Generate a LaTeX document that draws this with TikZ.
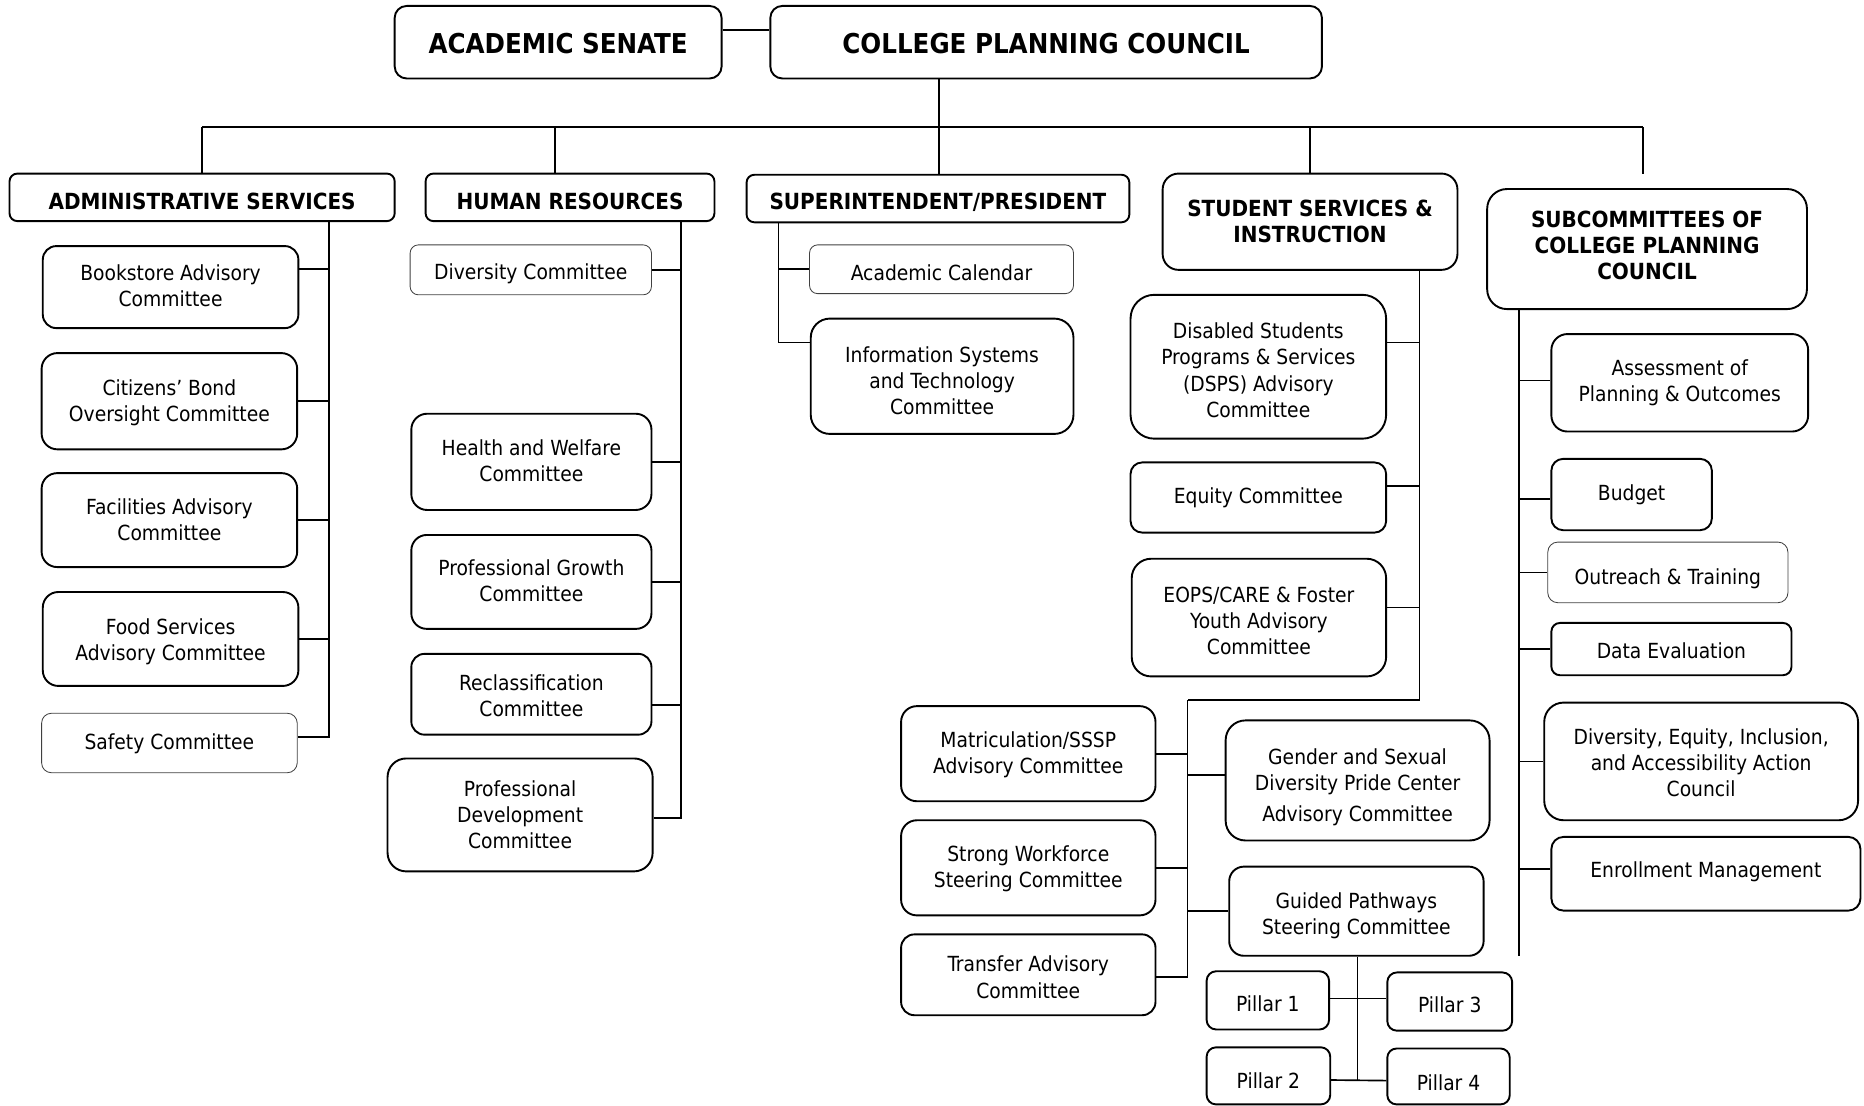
\documentclass[tikz,border=0pt]{standalone}
\usepackage{fontspec}
\setmainfont{DejaVu Sans Condensed}
\begin{document}
\begin{tikzpicture}[x=1pt,y=-1pt,
  box/.style={draw=black,line width=1.6pt,inner sep=0pt},
  thin/.style={draw=black!75,line width=0.7pt},
  txt/.style={inner sep=0pt,align=center,font={\fontsize{17.5}{22}\selectfont}},
  head/.style={font={\fontsize{18.7}{22}\selectfont\bfseries}},
  top/.style={font={\fontsize{23}{28}\selectfont\bfseries}},
  link/.style={draw=black,line width=1.4pt}]
\useasboundingbox (0,0) rectangle (1568,930);
% \bx[box options]{name}{centre}{width}{height}{text options}{text}
\newcommand\bx[7][]{%
  \pgfmathsetmacro\rr{0.165*#5}%
  \node[box,#1,minimum width=#4pt,minimum height=#5pt,rounded corners=\rr pt] (#2) at (#3) {};
  \node[txt,#6] (#2-t) at (#2.center) {#7};}
% top level
\bx{AS}{469.5,35.5}{275}{61}{top,yshift=-1pt}{ACADEMIC SENATE}
\bx{CPC}{880,35.5}{464}{61}{top,yshift=-1pt}{COLLEGE PLANNING COUNCIL}
% level 2
\bx{ADM}{170,166}{324}{40}{head,yshift=-3pt}{ADMINISTRATIVE SERVICES}
\bx{HR}{479.5,166}{243}{40}{head,yshift=-3pt}{HUMAN RESOURCES}
\bx{SUP}{789,167}{322}{40}{head,yshift=-3.5pt}{SUPERINTENDENT/PRESIDENT}
\bx{SSI}{1102,186.5}{248}{81}{head}{STUDENT SERVICES \&\\INSTRUCTION}
\bx{SUB}{1385.5,209.5}{269}{101}{head,yshift=3pt}{SUBCOMMITTEES OF\\COLLEGE PLANNING\\COUNCIL}
% administrative services
\bx{Book}{143.5,241.5}{215}{69}{yshift=1pt}{Bookstore Advisory\\Committee}
\bx{Cit}{142.5,337.5}{215}{81}{yshift=-1.5pt}{Citizens’ Bond\\Oversight Committee}
\bx{Fac}{142.5,437.5}{215}{79}{}{Facilities Advisory\\Committee}
\bx{Food}{143.5,537.5}{215}{79}{yshift=-2pt}{Food Services\\Advisory Committee}
\bx[thin]{Saf}{142.5,625}{215}{50}{yshift=-1pt}{Safety Committee}
% human resources
\bx[thin]{Div}{446.5,227}{203}{42}{yshift=-3pt}{Diversity Committee}
\bx{Hea}{447,388.5}{202}{81}{yshift=1pt}{Health and Welfare\\Committee}
\bx{PG}{447,489.5}{202}{79}{yshift=1pt}{Professional Growth\\Committee}
\bx{Rec}{447,584}{202}{68}{yshift=-1pt}{Reclassification\\Committee}
\bx{PD}{437.5,685.5}{223}{95}{}{Professional\\Development\\Committee}
% superintendent
\bx[thin]{Cal}{792,226.5}{222}{41}{yshift=-3pt}{Academic Calendar}
\bx{IST}{792.5,316.5}{221}{97}{yshift=-3.5pt}{Information Systems\\and Technology\\Committee}
% student services
\bx{DSPS}{1058.5,308.5}{215}{121}{yshift=-3pt}{Disabled Students\\Programs \& Services\\(DSPS) Advisory\\Committee}
\bx{Equ}{1058.5,418.5}{215}{59}{}{Equity Committee}
\bx{EOPS}{1059,519.5}{214}{99}{yshift=-3pt}{EOPS/CARE \& Foster\\Youth Advisory\\Committee}
\bx{Mat}{865,634}{214}{80}{yshift=-1pt}{Matriculation/SSSP\\Advisory Committee}
\bx{SW}{865,730}{214}{80}{yshift=-1pt}{Strong Workforce\\Steering Committee}
\bx{Tra}{865,820}{214}{68}{yshift=-2pt}{Transfer Advisory\\Committee}
\bx{Gen}{1142,656.5}{222}{101}{yshift=-6pt}{Gender and Sexual\\Diversity Pride Center\\[4pt]Advisory Committee}
\bx{GP}{1141,766.5}{214}{75}{yshift=-4pt}{Guided Pathways\\Steering Committee}
\bx{P1}{1066.5,841.5}{103}{49}{yshift=-3pt}{Pillar 1}
\bx{P3}{1219.5,842.5}{105}{49}{yshift=-3pt}{Pillar 3}
\bx{P2}{1067,905}{104}{48}{yshift=-4pt}{Pillar 2}
\bx{P4}{1218.5,905.5}{103}{47}{yshift=-5pt}{Pillar 4}
% subcommittees
\bx{Ass}{1413,322}{216}{82}{}{Assessment of\\Planning \& Outcomes}
\bx{Bud}{1372.5,416}{135}{60}{}{Budget}
\bx[thin]{Out}{1403,481.5}{202}{51}{yshift=-5pt}{Outreach \& Training}
\bx{DE}{1406,546}{202}{44}{yshift=-1pt}{Data Evaluation}
\bx{DEIA}{1431,640.5}{264}{99}{yshift=-1pt}{Diversity, Equity, Inclusion,\\and Accessibility Action\\Council}
\bx{Enr}{1435,735}{260}{62}{yshift=2pt}{Enrollment Management}
% coordinates
\coordinate (busL) at (170,107);
\coordinate (busR) at (1382,107);
\coordinate (subEnd) at (1382,146);
\coordinate (admT) at (277,186);
\coordinate (hrT) at (573,186);
\coordinate (hrDrop) at (467,146);
\coordinate (supT) at (655,187);
\coordinate (ssiT) at (1194,227);
\coordinate (ssiE) at (999,589);
\coordinate (subT) at (1278,260);
\coordinate (subB) at (1278,804);
\coordinate (gpB) at (1142,909);
% connectors
\draw[link] ([yshift=10.5pt]AS.east) -- ([yshift=10.5pt]CPC.west);
\draw[link] (SUP.north -| 790,0) -- (CPC.south -| 790,0);
\draw[link] (busL) -- (busR);
\draw[link] (ADM.north) -- (busL);
\draw[link] (hrDrop) -- (hrDrop |- busL);
\draw[link] (SSI.north) -- (SSI.north |- busL);
\draw[link] (busR) -- (subEnd);
% administrative
\draw[link] (admT) |- ([yshift=15.5pt]Book.east);
\draw[link] (admT) |- (Cit.east);
\draw[link] (admT) |- (Fac.east);
\draw[link] (admT) |- (Food.east);
\draw[link] (admT) |- ([yshift=5pt]Saf.east);
% human resources
\draw[link] (hrT) |- (Div.east);
\draw[link] (hrT) |- (Hea.east);
\draw[link] (hrT) |- (PG.east);
\draw[link] (hrT) |- ([yshift=-9pt]Rec.east);
\draw[link] (hrT) |- ([yshift=-2.5pt]PD.east);
% superintendent
\draw[link] (supT) |- (Cal.west);
\draw[link] (supT) |- ([yshift=28.5pt]IST.west);
% student services
\draw[link] (ssiT) |- ([yshift=20.5pt]DSPS.east);
\draw[link] (ssiT) |- ([yshift=9.5pt]Equ.east);
\draw[link] (ssiT) |- ([yshift=8.5pt]EOPS.east);
\draw[link] (ssiT) |- (ssiE);
\draw[link] (ssiE) |- (Mat.east);
\draw[link] (ssiE) |- ([yshift=4.5pt]Gen.west);
\draw[link] (ssiE) |- (SW.east);
\draw[link] (ssiE) |- (GP.west);
\draw[link] (ssiE) |- ([yshift=-2pt]Tra.east);
\draw[link] (GP.south -| gpB) -- (gpB);
\draw[link] ([yshift=1.5pt]P1.east) -- ([yshift=2.5pt]P3.west);
\draw[link] ([yshift=-3.5pt]P2.east) -- ([yshift=-3.5pt]P4.west);
% subcommittees
\draw[link] (subT) -- (subB);
\draw[link] (subT) |- ([yshift=2pt]Ass.west);
\draw[link] (subT) |- ([yshift=-4pt]Bud.west);
\draw[link] (subT) |- (Out.west);
\draw[link] (subT) |- (DE.west);
\draw[link] (subT) |- (DEIA.west);
\draw[link] (subT) |- ([yshift=4pt]Enr.west);
\end{tikzpicture}
\end{document}
